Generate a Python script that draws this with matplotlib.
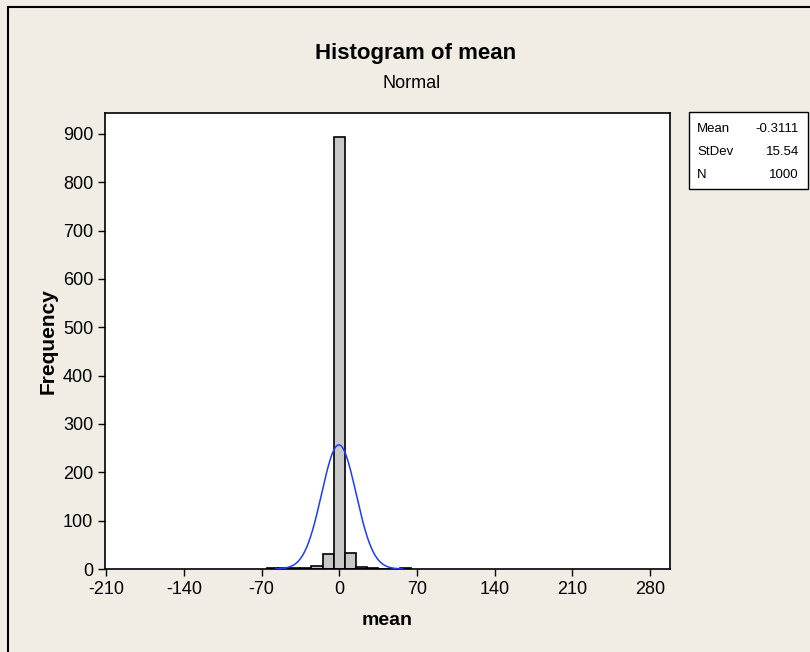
import matplotlib
matplotlib.use("Agg")
import matplotlib.pyplot as plt
import numpy as np
from matplotlib.patches import Rectangle
from matplotlib.lines import Line2D

plt.rcParams['font.family'] = ['Liberation Sans', 'DejaVu Sans']
plt.rcParams['axes.unicode_minus'] = False

# histogram of mean (bin width 10)
bin_left = [-65, -55, -45, -35, -25, -15, -5, 5, 15, 25, 35, 45, 55]
counts = [2, 2, 2, 2, 7, 31, 894, 34, 5, 2, 1, 1, 2]
bin_width = 10

# fitted normal
mu = -0.3111
sigma = 15.54
n_obs = 1000

x_ticks = [-210, -140, -70, 0, 70, 140, 210, 280]
y_ticks = [0, 100, 200, 300, 400, 500, 600, 700, 800, 900]

bg = '#F1EDE5'
fig = plt.figure(figsize=(8.10, 6.52), dpi=100, facecolor=bg)
ax = fig.add_axes([105/810, 1 - 569/652, 565/810, 456/652])
ax.set_facecolor('white')

ax.bar(bin_left, counts, width=bin_width, align='edge',
       color='#C8C8C8', edgecolor='black', linewidth=1.2, zorder=2)

# normal curve scaled to counts
xs = np.linspace(-57, 57, 300)
ys = n_obs * bin_width / (sigma * np.sqrt(2 * np.pi)) * np.exp(-0.5 * ((xs - mu) / sigma) ** 2)
ax.plot(xs, ys, color='#1F3BFF', linewidth=1.1, zorder=3)

ax.set_xlim(-211, 298)
ax.set_ylim(0, 943)
ax.set_xticks(x_ticks)
ax.set_yticks(y_ticks)
ax.tick_params(axis='both', direction='out', length=5, width=1, labelsize=13, colors='black')
for s in ax.spines.values():
    s.set_linewidth(1.2)

ax.set_xlabel('mean', fontsize=14, fontweight='bold', labelpad=10)
ax.set_ylabel('Frequency', fontsize=15, fontweight='bold', labelpad=4)

fig.text(416/810, 1 - 53/652, 'Histogram of mean', ha='center', va='center',
         fontsize=16, fontweight='bold')
fig.text(412/810, 1 - 83/652, 'Normal', ha='center', va='center', fontsize=13)

# stats box
fig.patches.append(Rectangle((689/810, 1 - 189/652), 119/810, 77/652,
                             transform=fig.transFigure, facecolor='white',
                             edgecolor='black', linewidth=1))
stat_names = ['Mean', 'StDev', 'N']
stat_vals = ['-0.3111', '15.54', '1000']
for i, (nm, v) in enumerate(zip(stat_names, stat_vals)):
    yy = 1 - (129 + i * 23) / 652
    fig.text(697/810, yy, nm, ha='left', va='center', fontsize=9.5)
    fig.text(799/810, yy, v, ha='right', va='center', fontsize=9.5)

# outer frame (left and top edges visible)
fig.lines.append(Line2D([8/810, 8/810], [0, 1 - 7/652], transform=fig.transFigure,
                        color='black', linewidth=1.5))
fig.lines.append(Line2D([8/810, 1], [1 - 7/652, 1 - 7/652], transform=fig.transFigure,
                        color='black', linewidth=1.5))

fig.savefig('out.png', dpi=100, facecolor=bg)
